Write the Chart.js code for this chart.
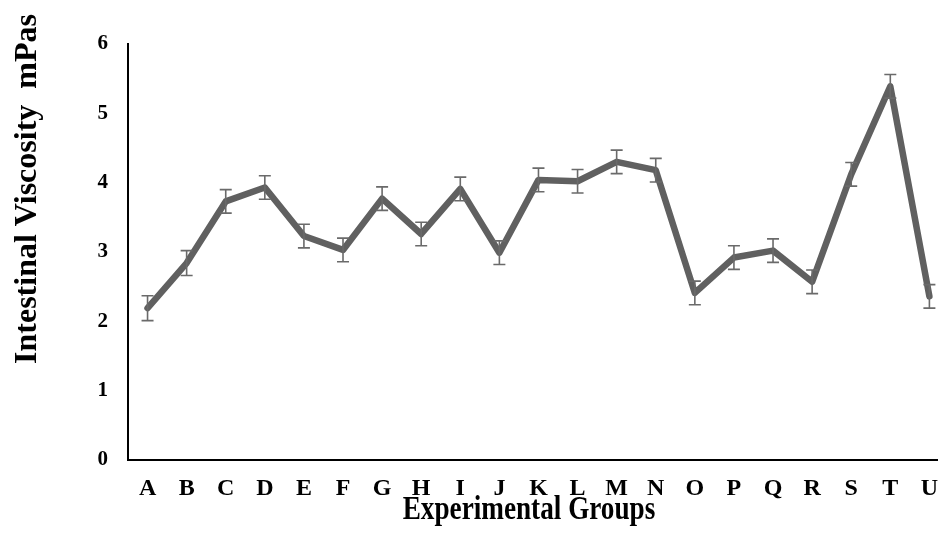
<!DOCTYPE html>
<html>
<head>
<meta charset="utf-8">
<script src="https://cdn.jsdelivr.net/npm/chart.js@4.4.1/dist/chart.umd.min.js"></script>
<style>
  html, body { margin: 0; padding: 0; background: #fff; overflow: hidden; }
  #wrap { width: 938px; height: 535px; position: relative; }
</style>
</head>
<body>
<div id="wrap"><canvas id="chart"></canvas></div>
<script>
/* global Chart */

// groups along the x axis
var groups = ['A', 'B', 'C', 'D', 'E', 'F', 'G', 'H', 'I', 'J', 'K',
              'L', 'M', 'N', 'O', 'P', 'Q', 'R', 'S', 'T', 'U'];

// mean intestinal viscosity (mPas) per group
var viscosity = [2.19, 2.84, 3.73, 3.93, 3.23, 3.03, 3.77, 3.26, 3.91, 2.99, 4.04,
                 4.02, 4.30, 4.18, 2.41, 2.92, 3.02, 2.57, 4.12, 5.39, 2.36];

// standard error per group
var stdError = [0.18, 0.18, 0.17, 0.17, 0.17, 0.17, 0.17, 0.17, 0.17, 0.17, 0.17,
                0.17, 0.17, 0.17, 0.17, 0.17, 0.17, 0.17, 0.17, 0.17, 0.17];

var yTicks = [0, 1, 2, 3, 4, 5, 6];

var serif = '"Liberation Serif", "Times New Roman", serif';

(function () {

    var points = viscosity.map(function (v, i) {
        return { x: i, y: v };
    });

    // vertical whiskers with caps, placed through the chart scales
    var errorBars = {
        id: 'errorBars',
        afterDatasetsDraw: function (chart) {
            var ctx = chart.ctx;
            var xs = chart.scales.x, ys = chart.scales.y;
            ctx.save();
            ctx.strokeStyle = '#6a6a6a';
            ctx.lineWidth = 1.6;
            viscosity.forEach(function (v, i) {
                var px = xs.getPixelForValue(i);
                var top = ys.getPixelForValue(v + stdError[i]);
                var bot = ys.getPixelForValue(v - stdError[i]);
                ctx.beginPath();
                ctx.moveTo(px, top); ctx.lineTo(px, bot);
                ctx.moveTo(px - 6, top); ctx.lineTo(px + 6, top);
                ctx.moveTo(px - 6, bot); ctx.lineTo(px + 6, bot);
                ctx.stroke();
            });
            ctx.restore();
        }
    };

    // axis titles, drawn by hand so they can sit off-centre and be condensed
    var axisTitles = {
        id: 'axisTitles',
        afterDraw: function (chart) {
            var ctx = chart.ctx;
            var area = chart.chartArea;
            ctx.save();
            ctx.fillStyle = '#000';
            ctx.textAlign = 'center';
            ctx.textBaseline = 'alphabetic';

            ctx.save();
            ctx.translate(36, 189);
            ctx.rotate(-Math.PI / 2);
            ctx.font = 'bold 32px ' + serif;
            ctx.fillText('Intestinal Viscosity  mPas', 0, 0);
            ctx.restore();

            ctx.save();
            ctx.translate((area.left + area.right) / 2 - 4, 519);
            ctx.scale(0.8, 1);
            ctx.font = 'bold 34px ' + serif;
            ctx.fillText('Experimental Groups', 0, 0);
            ctx.restore();

            ctx.restore();
        }
    };

    var config = {
        type: 'line',
        data: {
            datasets: [{
                data: points,
                borderColor: '#606060',
                borderWidth: 6.5,
                borderCapStyle: 'round',
                borderJoinStyle: 'round',
                pointRadius: 0,
                tension: 0,
                fill: false
            }]
        },
        options: {
            responsive: true,
            maintainAspectRatio: false,
            animation: false,
            layout: { padding: { top: 44, right: 0, left: 0, bottom: 0 } },
            plugins: {
                legend: { display: false },
                tooltip: { enabled: false }
            },
            scales: {
                x: {
                    type: 'linear',
                    min: -0.5,
                    max: 20.22,
                    grid: { display: false, drawTicks: false },
                    border: { display: true, color: '#000', width: 2 },
                    afterFit: function (scale) {
                        scale.height = 75;
                        scale.paddingLeft = 0;
                        scale.paddingRight = 0;
                    },
                    ticks: {
                        stepSize: 1,
                        includeBounds: false,
                        autoSkip: false,
                        maxRotation: 0,
                        padding: 14,
                        color: '#000',
                        font: { family: serif, size: 24, weight: 'bold' },
                        callback: function (v) {
                            return Number.isInteger(v) ? groups[v] : null;
                        }
                    }
                },
                y: {
                    min: yTicks[0],
                    max: yTicks[yTicks.length - 1],
                    grid: { display: false, drawTicks: false },
                    border: { display: true, color: '#000', width: 2 },
                    afterFit: function (scale) { scale.width = 128; },
                    afterBuildTicks: function (scale) {
                        scale.ticks = yTicks.map(function (t) { return { value: t }; });
                    },
                    ticks: {
                        padding: 20,
                        color: '#000',
                        font: { family: serif, size: 21, weight: 'bold' }
                    }
                }
            }
        },
        plugins: [errorBars, axisTitles]
    };

    new Chart(document.getElementById('chart').getContext('2d'), config);

})();
</script>
</body>
</html>
